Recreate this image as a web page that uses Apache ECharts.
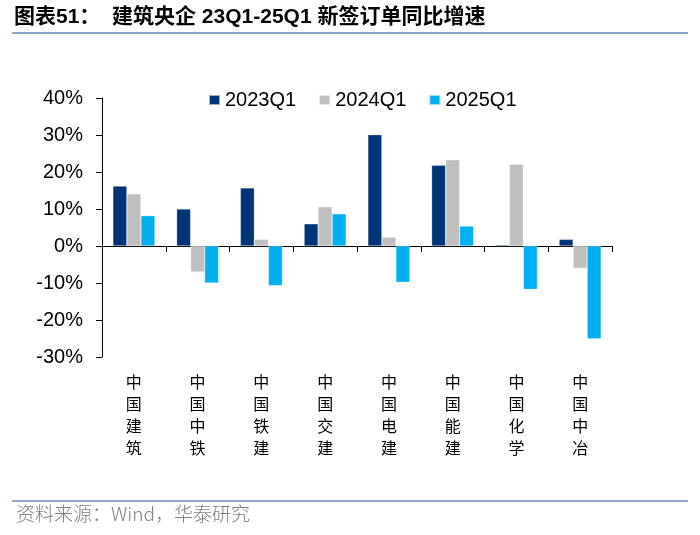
<!DOCTYPE html>
<html><head><meta charset="utf-8">
<script src="https://cdn.jsdelivr.net/npm/echarts@6/dist/echarts.min.js"></script>
<style>html,body{margin:0;padding:0;background:#fff;}#c{width:700px;height:535px;}</style>
</head><body><div id="c"></div>
<script>
const categories = ['中国建筑','中国中铁','中国铁建','中国交建','中国电建','中国能建','中国化学','中国中冶'];
const s2023 = [16.2, 10.0, 15.7, 6.0, 30.1, 21.8, 0.3, 1.8];
const s2024 = [14.1, -7.0, 1.8, 10.6, 2.4, 23.3, 22.1, -6.0];
const s2025 = [8.2, -10.0, -10.7, 8.7, -9.8, 5.4, -11.7, -25.1];
const seriesNames = ['2023Q1','2024Q1','2025Q1'];
const colors = ['#003478','#bfbfbf','#00b0f0'];

const chart = echarts.init(document.getElementById('c'));
const font = 'Arial, "Liberation Sans", "Noto Sans CJK SC", sans-serif';
chart.setOption({
  animation:false,
  graphic:[
    {type:'text', left:14, top:7, style:{text:'图表51：  建筑央企 23Q1-25Q1 新签订单同比增速', font:'bold 21px Arial, "Noto Sans CJK SC", sans-serif', fill:'#000'}},
    {type:'rect', shape:{x:12, y:32, width:676, height:2}, style:{fill:'#8ea6c6'}},
    {type:'rect', shape:{x:12, y:500, width:676, height:2}, style:{fill:'#8ea6c6'}},
    {type:'text', left:16, top:504, style:{text:'资料来源：Wind，华泰研究', font:'300 19px "Noto Sans CJK SC", sans-serif', fill:'#808080'}}
  ],
  legend:{
    data:seriesNames, left:203, top:85, itemWidth:11, itemHeight:10, itemGap:22,
    icon:'rect', textStyle:{fontSize:20, fontFamily:font, color:'#000'}
  },
  grid:{left:102, right:88, top:98, bottom:178, containLabel:false},
  xAxis:[
    {type:'category', data:categories, axisLine:{onZero:true, lineStyle:{color:'#000', width:1}},
     axisTick:{show:true, length:6, inside:false, lineStyle:{color:'#000'}}, axisLabel:{show:false}},
    {type:'category', data:categories, position:'bottom', axisLine:{show:false, onZero:false}, axisTick:{show:false},
     axisLabel:{show:true, margin:14, fontSize:16, lineHeight:22, color:'#000', fontFamily:'"Noto Sans CJK SC", sans-serif', fontWeight:400,
       formatter:v=>v.split('').join('\n')}}
  ],
  yAxis:{type:'value', min:-30, max:40, interval:10,
    axisLine:{show:true, lineStyle:{color:'#000'}}, axisTick:{show:true, length:6, lineStyle:{color:'#000'}},
    splitLine:{show:false},
    axisLabel:{formatter:'{value}%', fontSize:20, color:'#000', fontFamily:font, margin:19}},
  series: seriesNames.map((n,i)=>({
    name:n, type:'bar', xAxisIndex:0, data:[s2023,s2024,s2025][i], barWidth:14, barGap:'0%',
    itemStyle:{color:colors[i], borderColor:'rgba(255,255,255,0.6)', borderWidth:0.5}
  }))
});
</script></body></html>
